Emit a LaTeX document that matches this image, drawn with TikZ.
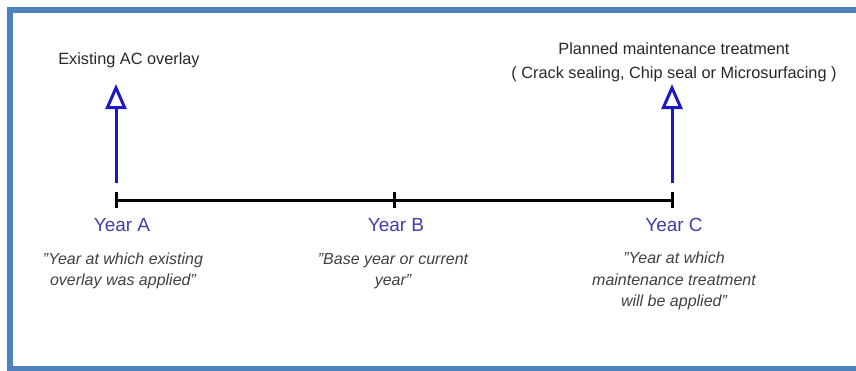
\documentclass[tikz,border=0pt]{standalone}
\usepackage{fontspec}
\setmainfont{Liberation Sans}
\usetikzlibrary{arrows.meta}
\definecolor{frameblue}{RGB}{79,129,189}
\definecolor{arrowblue}{RGB}{28,24,200}
\definecolor{yearblue}{RGB}{64,64,168}
\definecolor{notegray}{RGB}{64,64,64}
\definecolor{labelgray}{RGB}{40,40,40}
\begin{document}
\begin{tikzpicture}[x=1pt,y=-1pt,
  toplabel/.style={font=\fontsize{16.3}{24}\selectfont, text=labelgray, align=center, inner sep=0pt},
  yearlabel/.style={font=\fontsize{19}{22}\selectfont, text=yearblue, inner sep=0pt},
  note/.style={font=\fontsize{16}{21.5}\selectfont\itshape, text=notegray, align=center, inner sep=0pt},
  axisline/.style={line width=3pt, black},
  tickmark/.style={line width=3pt, black},
  event/.style={line width=3pt, arrowblue, -{Triangle[open, length=25pt, width=21pt, line width=3pt]}}
]
\useasboundingbox (0,0) rectangle (856,370);
% outer frame
\draw[frameblue, line width=6pt] (10,10) rectangle (880,369);

% timeline
\coordinate (ya) at (116,200);
\coordinate (yb) at (394,200);
\coordinate (yc) at (672,200);
\draw[axisline] (ya) -- (yc);
\foreach \t in {ya,yb,yc}
  \draw[tickmark] ([yshift=-8pt]\t) -- ([yshift=8pt]\t);

% event arrows
\coordinate (aFoot) at (116,183);
\coordinate (aTip)  at (116,84);
\coordinate (cFoot) at (672,183);
\coordinate (cTip)  at (672,84);
\draw[event] (aFoot) -- (aTip);
\draw[event] (cFoot) -- (cTip);

% labels
\node[toplabel] (lblA) at (129,60) {Existing AC overlay};
\node[toplabel] (lblC) at (674,62) {Planned maintenance treatment\\( Crack sealing, Chip seal or Microsurfacing )};

\node[yearlabel] (yearA) at (122,225) {Year A};
\node[yearlabel] (yearB) at (396,225) {Year B};
\node[yearlabel] (yearC) at (674,225) {Year C};

\node[note] (noteA) at (123,271) {"Year at which existing\\overlay was applied"};
\node[note] (noteB) at (393,271) {"Base year or current\\year"};
\node[note] (noteC) at (674,281) {"Year at which\\maintenance treatment\\will be applied"};
\end{tikzpicture}
\end{document}
